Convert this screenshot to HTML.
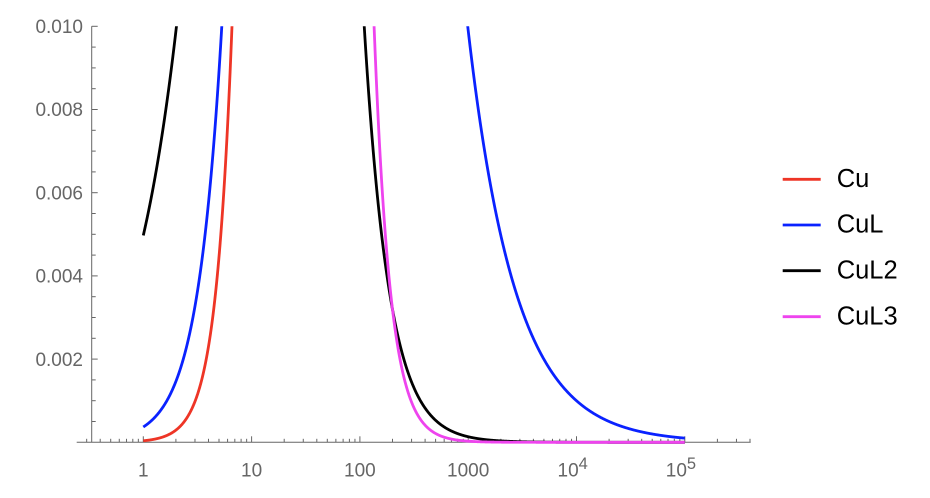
<!DOCTYPE html>
<html>
<head>
<meta charset="utf-8">
<style>
  html,body{margin:0;padding:0;background:#fff;}
  svg{display:block;}
  text{font-family:"Liberation Sans",Arial,sans-serif;}
</style>
</head>
<body>
<svg id="chart" width="930" height="498" viewBox="0 0 930 498" xmlns="http://www.w3.org/2000/svg">
  <defs>
    <clipPath id="plotclip">
      <rect x="76" y="26.3" width="676" height="430"/>
    </clipPath>
  </defs>
  <g id="axes" stroke="#666" stroke-width="1" fill="none"></g>
  <g id="curves" clip-path="url(#plotclip)" fill="none" stroke-width="2.8" stroke-linejoin="round"></g>
  <g fill="#666" font-size="19">
    <text x="83" y="33" text-anchor="end">0.010</text>
    <text x="83" y="116.2" text-anchor="end">0.008</text>
    <text x="83" y="199.4" text-anchor="end">0.006</text>
    <text x="83" y="282.6" text-anchor="end">0.004</text>
    <text x="83" y="365.8" text-anchor="end">0.002</text>
    <text x="143.3" y="476.5" text-anchor="middle">1</text>
    <text x="251.6" y="476.5" text-anchor="middle">10</text>
    <text x="359.9" y="476.5" text-anchor="middle">100</text>
    <text x="468.2" y="476.5" text-anchor="middle">1000</text>
    <text x="557.5" y="476.5">10</text>
    <text x="578.6" y="469" font-size="16.5">4</text>
    <text x="665.8" y="476.5">10</text>
    <text x="686.9" y="469" font-size="16.5">5</text>
  </g>
  <g stroke-width="2.8">
    <line x1="782.7" y1="179.3" x2="820.7" y2="179.3" stroke="#ee3526"/>
    <line x1="782.7" y1="225" x2="820.7" y2="225" stroke="#0a22ff"/>
    <line x1="782.7" y1="270.7" x2="820.7" y2="270.7" stroke="#000"/>
    <line x1="782.7" y1="316.7" x2="820.7" y2="316.7" stroke="#ee44ee"/>
  </g>
  <g fill="#000" font-size="25.5">
    <text x="836.7" y="187">Cu</text>
    <text x="836.7" y="232.7">CuL</text>
    <text x="836.7" y="278.4">CuL2</text>
    <text x="836.7" y="324.4">CuL3</text>
  </g>
</svg>
<script>
(function(){
  var NS="http://www.w3.org/2000/svg";
  function X(x){return 143.3+108.3*Math.log10(x);}
  function Y(v){return 442.3-v*41600;}
  var axes=document.getElementById("axes");
  function ln(x1,y1,x2,y2){
    var l=document.createElementNS(NS,"line");
    l.setAttribute("x1",x1);l.setAttribute("y1",y1);
    l.setAttribute("x2",x2);l.setAttribute("y2",y2);
    axes.appendChild(l);
  }
  ln(76.7,442.3,750.7,442.3);
  ln(91.7,26.3,91.7,442.3);
  for(var d=-1; d<=5; d++){
    for(var m=1;m<=9;m++){
      var xv=m*Math.pow(10,d);
      var px=X(xv);
      if(px<77||px>750.5) continue;
      if(m===1) ln(px,442.3,px,436.3);
      else ln(px,442.3,px,438.8);
    }
  }
  for(var k=1;k<=20;k++){
    var py=442.3-k*20.8;
    if(k%4===0) ln(91.7,py,97.7,py);
    else ln(91.7,py,95.7,py);
  }
  var b1=10,b2=135,b3=27000;
  var cols=["#ee3526","#0a22ff","#000000","#ee44ee"];
  var pts=[[],[],[],[]];
  var N=2500;
  for(var i=0;i<=N;i++){
    var lx=5*i/N;
    var x=Math.pow(10,lx);
    var u=1/x;
    var t=[1,b1*u,b2*u*u,b3*u*u*u];
    var D=t[0]+t[1]+t[2]+t[3];
    var px=X(x);
    for(var s=0;s<4;s++){
      var v=t[s]/D;
      var py=Y(v);
      if(py<-50) py=-50;
      pts[s].push(px.toFixed(2)+","+py.toFixed(2));
    }
  }
  var g=document.getElementById("curves");
  for(var s=0;s<4;s++){
    var p=document.createElementNS(NS,"polyline");
    p.setAttribute("points",pts[s].join(" "));
    p.setAttribute("stroke",cols[s]);
    g.appendChild(p);
  }
})();
</script>
</body>
</html>
